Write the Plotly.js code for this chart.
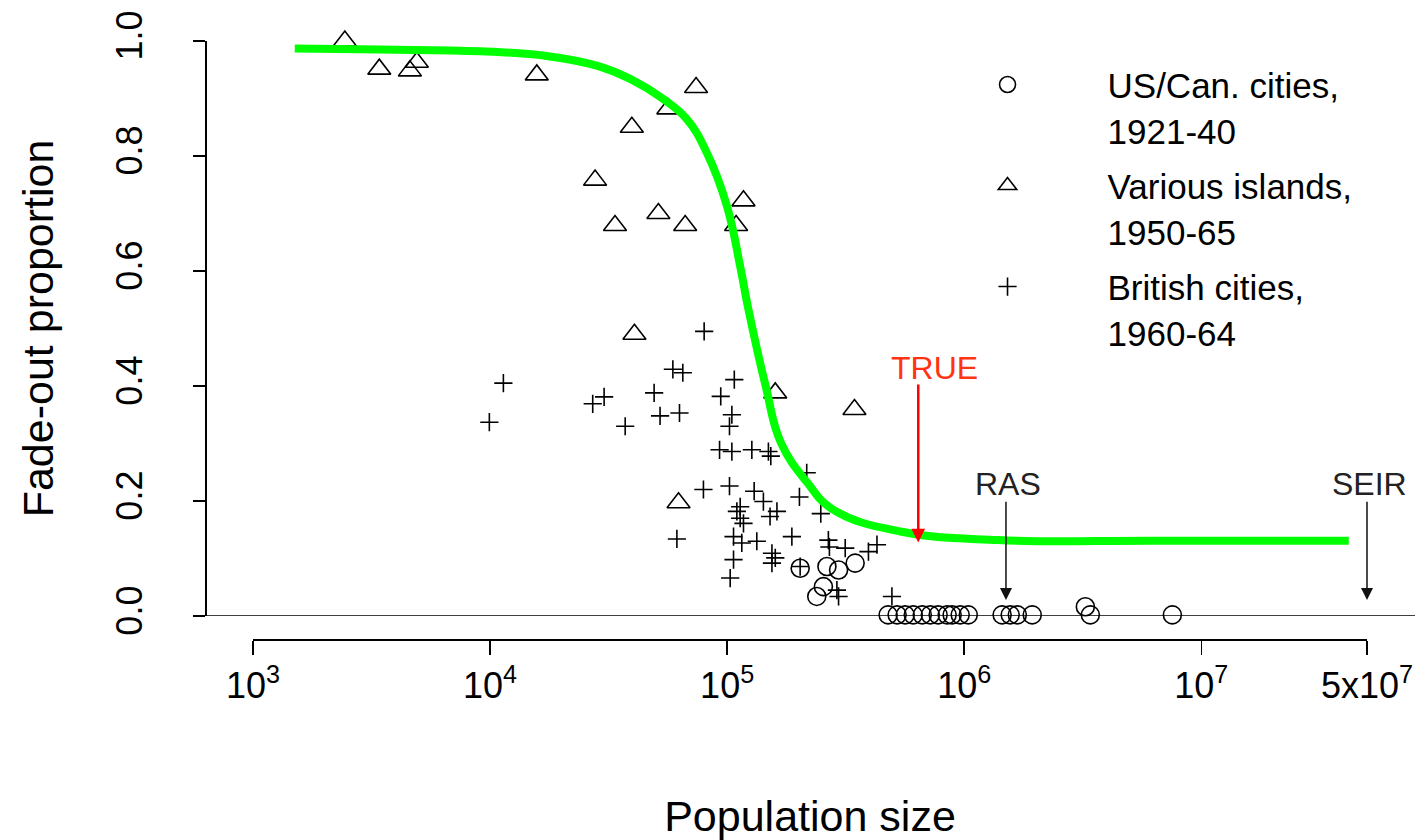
<!DOCTYPE html>
<html><head><meta charset="utf-8">
<script src="https://cdn.plot.ly/plotly-3.0.1.min.js"></script>
<style>html,body{margin:0;padding:0;background:#fff}#chart{width:1421px;height:840px}</style>
</head><body><div id="chart"></div>
<script>
// ---- data ----
const usPop  = [203200, 263600, 295100, 346700, 238800, 254700, 477500, 521200, 563600, 609500, 665300, 719500, 776200, 847200, 889300, 961600, 1040000, 1445000, 1563000, 1675000, 1936000, 3243000, 3404000, 7551000];
const usFade = [0.083, 0.086, 0.080, 0.092, 0.034, 0.051, 0.002, 0.002, 0.002, 0.002, 0.002, 0.002, 0.002, 0.002, 0.002, 0.002, 0.002, 0.002, 0.002, 0.002, 0.002, 0.016, 0.002, 0.002];

const islandPop  = [2440, 3410, 4590, 4910, 15740, 73960, 56490, 39630, 27730, 33650, 51290, 66530, 117200, 109100, 40640, 159600, 344400, 62370];
const islandFade = [1.0, 0.951, 0.948, 0.963, 0.941, 0.919, 0.882, 0.850, 0.758, 0.679, 0.700, 0.679, 0.722, 0.679, 0.490, 0.388, 0.359, 0.197];

const britishPop  = [11380, 9930, 27100, 30270, 49200, 37150, 52120, 62950, 59020, 65010, 79980, 107200, 93970, 104700, 102300, 92900, 104700, 127100, 149300, 152800, 216600, 79430, 102300, 130000, 142200, 201800, 61380, 248300, 109900, 113500, 117200, 113500, 151700, 162200, 106400, 115300, 133400, 187500, 154500, 159600, 154500, 106400, 103000, 267300, 270000, 314800, 290400, 295100, 428500, 394500, 495500, 203200];
const britishFade = [0.405, 0.337, 0.369, 0.381, 0.388, 0.330, 0.348, 0.353, 0.429, 0.423, 0.495, 0.411, 0.382, 0.350, 0.330, 0.289, 0.286, 0.289, 0.286, 0.278, 0.249, 0.220, 0.226, 0.217, 0.199, 0.207, 0.134, 0.178, 0.182, 0.170, 0.161, 0.190, 0.173, 0.182, 0.138, 0.127, 0.130, 0.138, 0.109, 0.101, 0.092, 0.098, 0.066, 0.132, 0.120, 0.118, 0.045, 0.034, 0.124, 0.112, 0.034, 0.086];

const curvePop  = [1500, 3440, 9080, 17300, 28200, 39000, 53800, 67600, 82000, 99800, 113500, 123000, 145500, 168700, 217800, 279900, 537000, 1390000, 6457000, 41880000];
const curveFade = [0.987, 0.985, 0.982, 0.974, 0.957, 0.934, 0.899, 0.864, 0.806, 0.713, 0.608, 0.533, 0.399, 0.301, 0.232, 0.185, 0.147, 0.132, 0.131, 0.131];

const seriesNames = ['US/Can. cities,<br>1921-40', 'Various islands,<br>1950-65', 'British cities,<br>1960-64'];

const markLabels = ['TRUE', 'RAS', 'SEIR'];
const markPop    = [640000, 1500000, 50000000];
const markTail   = [0.406, 0.202, 0.202];
const markTip    = [0.128, 0.028, 0.028];

const xTickVals = [1e3, 1e4, 1e5, 1e6, 1e7, 5e7];
const xTickText = ['10<sup>3</sup>', '10<sup>4</sup>', '10<sup>5</sup>', '10<sup>6</sup>', '10<sup>7</sup>', '5x10<sup>7</sup>'];
const yTickVals = [0, 0.2, 0.4, 0.6, 0.8, 1.0];
const yTickText = ['0.0', '0.2', '0.4', '0.6', '0.8', '1.0'];

// ---- styling ----
const FONT = 'Liberation Sans, Arial, Helvetica, sans-serif';
const markerLine = {color: '#000', width: 1.6};

const traces = [
  {x: usPop, y: usFade, name: seriesNames[0], legendgroup: 'us', type: 'scatter', mode: 'markers', cliponaxis: false,
   marker: {symbol: 'circle-open', size: 18, color: '#000', line: markerLine}},
  {x: islandPop, y: islandFade, name: seriesNames[1], legendgroup: 'isl', type: 'scatter', mode: 'markers', cliponaxis: false,
   marker: {symbol: 'triangle-up-open', size: 20, color: '#000', line: markerLine}},
  {x: britishPop, y: britishFade, name: seriesNames[2], legendgroup: 'brit', type: 'scatter', mode: 'markers', cliponaxis: false,
   marker: {symbol: 'cross-thin-open', size: 13, color: '#000', line: markerLine}},
  {x: curvePop, y: curveFade, type: 'scatter', mode: 'lines', showlegend: false, hoverinfo: 'skip',
   line: {color: '#00ff00', width: 8, shape: 'spline', smoothing: 1.2}}
];

const annotations = [];
markLabels.forEach((lab, i) => {
  const isTrue = lab === 'TRUE';
  const lx = Math.log10(markPop[i]);
  annotations.push({
    x: lx, y: markTip[i], xref: 'x', yref: 'y',
    ax: lx, ay: markTail[i], axref: 'x', ayref: 'y',
    text: ' ', font: {size: 1}, showarrow: true, arrowhead: 2, standoff: 0, startstandoff: 0,
    arrowsize: isTrue ? 1.1 : 1.6, arrowwidth: isTrue ? 2.5 : 1.5,
    arrowcolor: isTrue ? '#ff0000' : '#111'
  });
  annotations.push({
    x: lx, y: markTail[i], xref: 'x', yref: 'y', showarrow: false,
    text: lab, xanchor: 'center', yanchor: 'bottom', yshift: isTrue ? -5 : -4, xshift: isTrue ? 16 : 2,
    font: {family: FONT, size: 32, color: isTrue ? '#ff3311' : '#222'}
  });
});

const layout = {
  width: 1421, height: 840,
  margin: {l: 205, r: 6, t: 20, b: 201, pad: 0},
  paper_bgcolor: '#fff', plot_bgcolor: '#fff',
  font: {family: FONT, color: '#000'},
  showlegend: true,
  legend: {
    x: 0.5806, y: 0.943, xanchor: 'left', yanchor: 'top',
    font: {family: FONT, size: 35, color: '#000'},
    itemwidth: 190, valign: 'top', bgcolor: 'rgba(0,0,0,0)', borderwidth: 0,
    tracegroupgap: 7
  },
  xaxis: {
    type: 'log', domain: [0.03967, 0.96033], range: [3, Math.log10(5e7)],
    anchor: 'free', position: 0,
    showline: true, linecolor: '#000', linewidth: 1.5,
    ticks: 'outside', ticklen: 14, tickwidth: 1.5, tickcolor: '#000',
    tickvals: xTickVals, ticktext: xTickText,
    tickfont: {family: FONT, size: 36, color: '#000'},
    showgrid: false, zeroline: false,
    title: {text: 'Population size', font: {family: FONT, size: 43, color: '#000'}, standoff: 98}
  },
  yaxis: {
    domain: [0.03716, 0.9661], range: [0, 1],
    anchor: 'free', position: 0,
    showline: true, linecolor: '#000', linewidth: 1.5,
    ticks: 'outside', ticklen: 12, tickwidth: 1.5, tickcolor: '#000',
    tickvals: yTickVals, ticktext: yTickText, tickangle: -90,
    ticklabelstandoff: 37,
    tickfont: {family: FONT, size: 36, color: '#000'},
    showgrid: false, zeroline: false,
    title: {text: 'Fade-out proportion', font: {family: FONT, size: 43, color: '#000'}, standoff: 40}
  },
  shapes: [
    {type: 'line', xref: 'paper', yref: 'y', x0: 0, x1: 1, y0: 0, y1: 0, line: {color: '#000', width: 1.5}, layer: 'below'}
  ],
  annotations: annotations
};

Plotly.newPlot('chart', traces, layout, {displayModeBar: false, staticPlot: true});
</script>
</body></html>
